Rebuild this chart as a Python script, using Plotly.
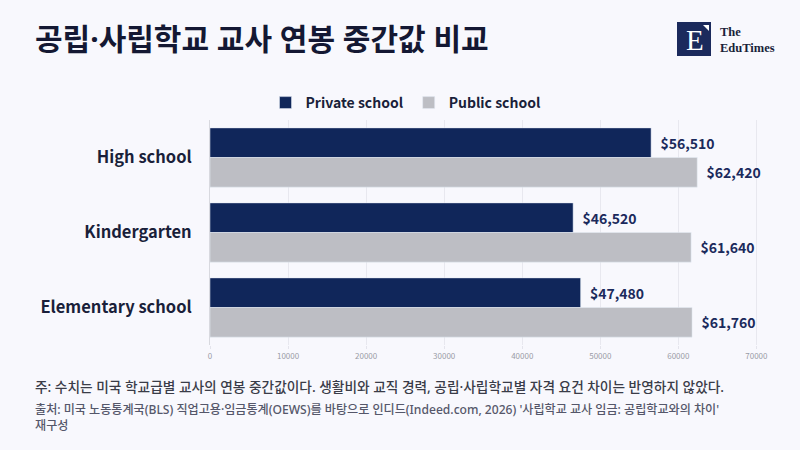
import plotly.graph_objects as go

categorias = ['High school', 'Kindergarten', 'Elementary school']
privada = [56510, 46520, 47480]
publica = [62420, 61640, 61760]
nomes_series = ['Private school', 'Public school']
ticks_x = [0, 10000, 20000, 30000, 40000, 50000, 60000, 70000]

fonte = 'Noto Sans CJK KR'
fonte_ko = 'Noto Sans, Noto Sans CJK KR'
cor_privada = '#10265a'
cor_publica = '#bdbec4'
fundo = '#f8f8fd'

# area do grafico em pixels: x 210..772, y 120..345
L, R, T, B = 210, 772, 120, 345


def px_x(x):
    return (x - L) / (R - L)


def px_y(y):
    return (B - y) / (B - T)


def rotulo(v):
    return '\u00a0\u00a0$' + format(v, ',')


fig = go.Figure()
fig.add_trace(go.Bar(
    y=categorias, x=privada, name=nomes_series[0], orientation='h',
    marker_color=cor_privada,
    text=[rotulo(v) for v in privada], textposition='outside',
    textfont=dict(family=fonte, size=14, color='#1b2a5c', weight='bold'),
    cliponaxis=False,
))
fig.add_trace(go.Bar(
    y=categorias, x=publica, name=nomes_series[1], orientation='h',
    marker_color=cor_publica,
    text=[rotulo(v) for v in publica], textposition='outside',
    textfont=dict(family=fonte, size=14, color='#1b2a5c', weight='bold'),
    cliponaxis=False,
))

fig.update_layout(
    width=800, height=450,
    paper_bgcolor=fundo, plot_bgcolor=fundo,
    margin=dict(l=L, r=800 - R, t=T, b=450 - B, autoexpand=False),
    barmode='group', bargap=0.21, bargroupgap=0,
    font=dict(family=fonte, color='#1a1f3a'),
    showlegend=True,
    legend=dict(
        orientation='h', x=px_x(406), xanchor='center', y=px_y(103), yanchor='middle',
        font=dict(family=fonte, size=14, color='#1a1f3a', weight='bold'),
        bgcolor='rgba(0,0,0,0)',
    ),
    uniformtext=dict(minsize=10, mode='show'),
)

fig.update_xaxes(
    range=[0, 72000], tickvals=ticks_x, ticktext=[str(t) for t in ticks_x],
    tickfont=dict(family=fonte, size=8, color='#9a9ca6'),
    showgrid=True, gridcolor='#e8e8ef', gridwidth=1,
    zeroline=False, showline=False,
    ticks='outside', ticklen=3, tickcolor='#e4e4ec',
)
fig.update_yaxes(
    autorange='reversed',
    tickfont=dict(family=fonte, size=16.5, color='#1a1f3a', weight='bold'),
    ticks='', ticklabelstandoff=14,
    showline=True, linecolor='#d8d9df', linewidth=1,
)

# titulo
fig.add_annotation(
    text='공립·사립학교 교사 연봉 중간값 비교', xref='paper', yref='paper',
    x=px_x(33), y=px_y(38), xanchor='left', yanchor='middle', showarrow=False,
    font=dict(family=fonte_ko, size=30, color='#141833', weight='bold'),
)

# logo
fig.add_shape(type='rect', xref='paper', yref='paper',
              x0=px_x(677), x1=px_x(711), y0=px_y(22), y1=px_y(56),
              fillcolor='#1b2a5c', line_width=0, layer='below')
fig.add_shape(type='path', xref='paper', yref='paper',
              path='M {0},{1} L {2},{1} L {2},{3} Z'.format(
                  px_x(703), px_y(25), px_x(709), px_y(31)),
              fillcolor='white', line_width=0)
fig.add_annotation(text='E', xref='paper', yref='paper',
                   x=px_x(695), y=px_y(40), xanchor='center', yanchor='middle',
                   showarrow=False,
                   font=dict(family='Liberation Serif', size=29, color='white'))
fig.add_annotation(text='The<br>EduTimes', xref='paper', yref='paper',
                   x=px_x(718), y=px_y(39.5), xanchor='left', yanchor='middle',
                   align='left', showarrow=False,
                   font=dict(family='Liberation Serif', size=12.5, color='#1a1f3a', weight='bold'))

# notas
fig.add_annotation(
    text='주: 수치는 미국 학교급별 교사의 연봉 중간값이다. 생활비와 교직 경력, 공립·사립학교별 자격 요건 차이는 반영하지 않았다.',
    xref='paper', yref='paper', x=px_x(33), y=px_y(386),
    xanchor='left', yanchor='middle', showarrow=False,
    font=dict(family=fonte_ko, size=13.7, color='#3a3c48', weight=500),
)
fig.add_annotation(
    text="출처: 미국 노동통계국(BLS) 직업고용·임금통계(OEWS)를 바탕으로 인디드(Indeed.com, 2026) '사립학교 교사 임금: 공립학교와의 차이'<br>재구성",
    xref='paper', yref='paper', x=px_x(33), y=px_y(399),
    xanchor='left', yanchor='top', align='left', showarrow=False,
    font=dict(family=fonte_ko, size=12.1, color='#55576a', weight=500),
)

fig.write_html('out.html', config={'displayModeBar': False},
               post_script="document.body.style.margin='0px';")
